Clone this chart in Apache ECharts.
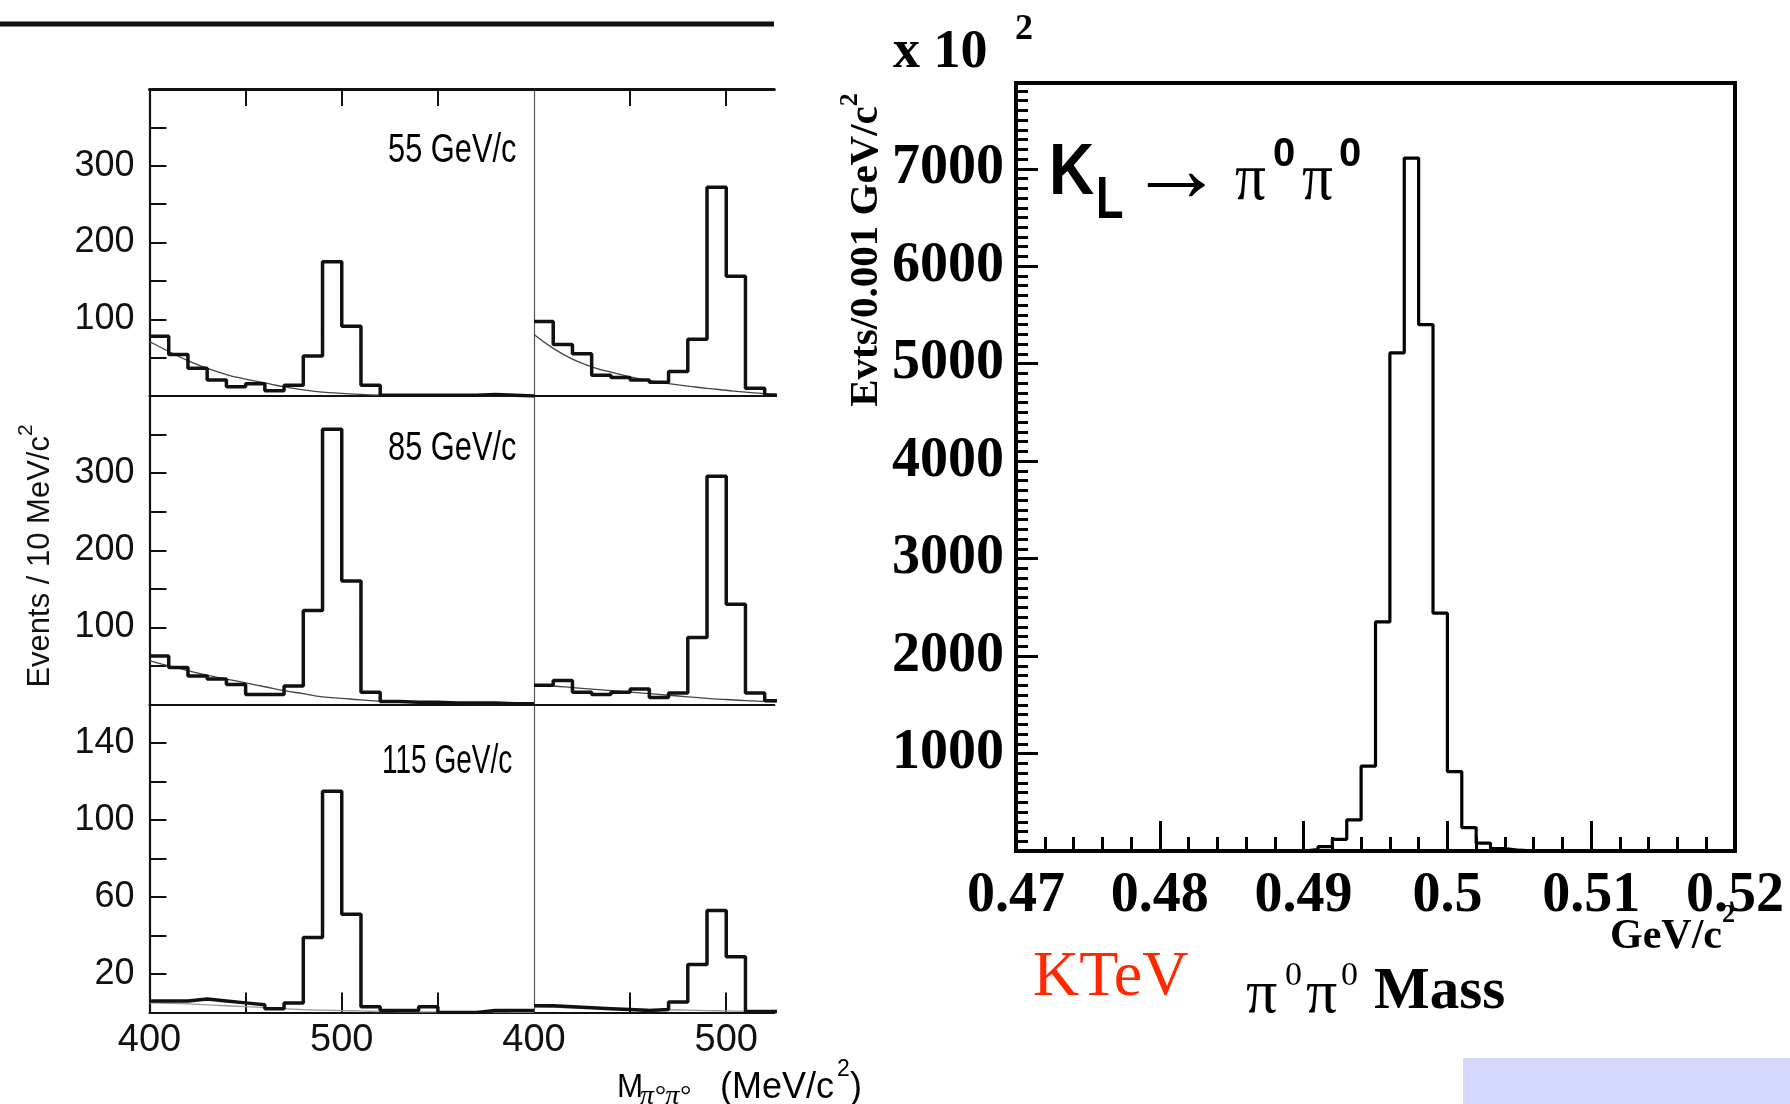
<!DOCTYPE html>
<html><head><meta charset="utf-8">
<script src="https://cdn.jsdelivr.net/npm/echarts@6/dist/echarts.min.js"></script>
<style>html,body{margin:0;padding:0;background:#fff;}#c{width:1790px;height:1104px;}</style>
</head><body><div id="c"></div>
<script>
// ---------------- DATA ----------------
// Left (scanned) figure: bins of 10 MeV/c^2, lower edges
const massEdgesA = [400,410,420,430,440,450,460,470,480,490,500,510,520,530,540,550,560,570,580,590];
const massEdgesB = [400,410,420,430,440,450,460,470,480,490,500,510,520];
const massBinWidth = 10;
// 55 GeV/c
const h55a = [78,54,36,21,12,16,7,14,52,175,91,14,1,1,1,1,1,2,1,0];
const h55b = [97,67,55,27,24,21,18,32,74,272,156,10,1];
// 85 GeV/c
const h85a = [63,48,37,33,26,13,13,24,122,357,160,16,4,3,3,2,2,2,1,1];
const h85b = [25,31,16,13,16,20,9,15,87,296,130,15,5];
// 115 GeV/c
const h115a = [6,6,7,6,5,4,2,5,39,115,51,3,1,1,3,0,0,1,1,1];
const h115b = [3.5,3,2.5,2,1.5,1,1.5,5.5,25,53,29,0.5,0.5];
// background curves
const curveMassA = [400,410,420,430,440,450,460,470,480,490,500,510,520,530,540,550,560,570,580,590,600];
const curveMassB = [400,410,420,430,440,450,460,470,480,490,500,510,520,530];
const c55a = [71,58,46,36,28,22,17,12,8,5,3.5,2,1,0.5,0.3,0.2,0.2,0.1,0.1,0.1,0.1];
const c55b = [80,62,48,38,31,25,20,16,13,10,7.5,5,3,2];
const c85a = [57,50,44,38,33,28,23,18,14,10,8,6,4.5,3.5,2.5,2,1.5,1,1,0.5,0.5];
const c85b = [25,24,22,20,18,16,14,12,10,8,6.5,5,4,3];
const c115a = [5,4.8,4.5,4,3.5,3,2.5,2,1.5,1.2,1,0.8,0.5,0.4,0.3,0.3,0.2,0.2,0.2,0.1,0.1];
const c115b = [3,2.7,2.4,2.2,2,1.8,1.6,1.4,1.2,1,0.8,0.6,0.5,0.4];
const panelLabels = ['55 GeV/c','85 GeV/c','115 GeV/c'];
const yTicksTall = [50,100,150,200,250,300,350];
const yLabelsTall = [100,200,300];
const yTicksShort = [20,40,60,80,100,120,140];
const yLabelsShort = [20,60,100,140];
const xLabelsLeft = [400,500];
const xTicksLeftA = [450,500,550];
const xTicksLeftB = [450,500];

// Right (KTeV) histogram: bins of 0.001 GeV/c^2, lower edges
const kEdges = [0.470,0.471,0.472,0.473,0.474,0.475,0.476,0.477,0.478,0.479,
                0.480,0.481,0.482,0.483,0.484,0.485,0.486,0.487,0.488,0.489,
                0.490,0.491,0.492,0.493,0.494,0.495,0.496,0.497,0.498,0.499,
                0.500,0.501,0.502,0.503,0.504,0.505,0.506,0.507,0.508,0.509,
                0.510,0.511,0.512,0.513,0.514,0.515,0.516,0.517,0.518,0.519];
const kCounts = [0,0,0,0,0,0,0,0,0,0,
                 0,0,0,0,0,0,0,0,0,0,
                 15,44,120,320,870,2350,5110,7110,5400,2440,
                 815,240,80,25,8,0,0,0,0,0,
                 0,0,0,0,0,0,0,0,0,0];
const kBinWidth = 0.001;

// ---------------- BUILD ----------------
function histPoints(edges, vals, w) {
  const pts = edges.map((e, i) => [e, vals[i]]);
  pts.push([edges[edges.length - 1] + w, vals[vals.length - 1]]);
  return pts;
}
function curvePoints(xs, ys) { return xs.map((x, i) => [x, ys[i]]); }

const INK = '#111';
const L1 = 149.5, W1 = 384.5, L2 = 534, W2 = 240.3;
const rowTop = [89, 396, 704.5];
const rowH = [307, 308.5, 308];

const grids = [], xAxes = [], yAxes = [], series = [];
const hist = [[h55a, h55b], [h85a, h85b], [h115a, h115b]];
const curves = [[c55a, c55b], [c85a, c85b], [c115a, c115b]];

for (let r = 0; r < 3; r++) {
  for (let c = 0; c < 2; c++) {
    const p = r * 2 + c;
    grids.push({ left: c === 0 ? L1 : L2, top: rowTop[r], width: c === 0 ? W1 : W2, height: rowH[r], show: false, containLabel: false });
    xAxes.push({
      type: 'value', gridIndex: p, min: 400, max: c === 0 ? 600 : 525, position: 'bottom',
      axisLine: { show: true, onZero: false, lineStyle: { color: INK, width: 2.2 } },
      splitLine: { show: false },
      axisTick: r === 2 ? { show: true, inside: true, length: 20, customValues: c === 0 ? xTicksLeftA : xTicksLeftB, lineStyle: { color: INK, width: 2 } } : { show: false },
      axisLabel: r === 2 ? { show: true, customValues: xLabelsLeft, fontFamily: 'Liberation Sans', fontSize: 38, color: INK, margin: 9 } : { show: false }
    });
    yAxes.push({
      type: 'value', gridIndex: p, min: 0, max: r === 2 ? 160 : 400,
      axisLine: c === 0 ? { show: true, onZero: false, lineStyle: { color: INK, width: 2.2 } } : { show: true, onZero: false, lineStyle: { color: '#555', width: 1.2 } },
      splitLine: { show: false },
      axisTick: c === 0 ? { show: true, inside: true, length: 17, customValues: r === 2 ? yTicksShort : yTicksTall, lineStyle: { color: INK, width: 2 } } : { show: false },
      axisLabel: c === 0 ? { show: true, customValues: r === 2 ? yLabelsShort : yLabelsTall, fontFamily: 'Liberation Sans', fontSize: 36, color: INK, margin: 15 } : { show: false }
    });
    const cm = c === 0 ? curveMassA : curveMassB;
    series.push({
      type: 'line', xAxisIndex: p, yAxisIndex: p, smooth: true, symbol: 'none', silent: true,
      lineStyle: { color: r === 2 ? '#999' : '#444', width: 1.3 },
      data: curvePoints(cm, curves[r][c]), z: 2
    });
    series.push({
      type: 'line', xAxisIndex: p, yAxisIndex: p, step: 'end', symbol: 'none', silent: true,
      lineStyle: { color: INK, width: 3.5 }, data: histPoints(c === 0 ? massEdgesA : massEdgesB, hist[r][c], massBinWidth), z: 3
    });
  }
}
// top border axes of row 1
xAxes.push({ type: 'value', gridIndex: 0, min: 400, max: 600, position: 'top',
  axisLine: { show: true, onZero: false, lineStyle: { color: INK, width: 3 } }, splitLine: { show: false },
  axisTick: { show: true, inside: true, length: 17, customValues: xTicksLeftA, lineStyle: { color: INK, width: 2 } }, axisLabel: { show: false } });
xAxes.push({ type: 'value', gridIndex: 1, min: 400, max: 525, position: 'top',
  axisLine: { show: true, onZero: false, lineStyle: { color: INK, width: 3 } }, splitLine: { show: false },
  axisTick: { show: true, inside: true, length: 17, customValues: xTicksLeftB, lineStyle: { color: INK, width: 2 } }, axisLabel: { show: false } });

// right KTeV panel
grids.push({ left: 1016, top: 83, width: 719, height: 768, show: true, borderColor: '#000', borderWidth: 4, backgroundColor: 'transparent', containLabel: false });
xAxes.push({
  type: 'value', gridIndex: 6, min: 0.47, max: 0.52, interval: 0.01, position: 'bottom',
  axisLine: { show: true, onZero: false, lineStyle: { color: '#000', width: 4 } }, splitLine: { show: false },
  axisTick: { show: true, inside: true, length: 30, lineStyle: { color: '#000', width: 3 } },
  minorTick: { show: true, splitNumber: 5, length: 14, lineStyle: { color: '#000', width: 3 } },
  axisLabel: { show: true, fontFamily: 'Liberation Serif', fontWeight: 'bold', fontSize: 56, color: '#000', margin: 18,
    formatter: v => String(Math.round(v * 1000) / 1000) }
});
yAxes.push({
  type: 'value', gridIndex: 6, min: 0, max: 7880, interval: 1000,
  axisLine: { show: true, onZero: false, lineStyle: { color: '#000', width: 4 } }, splitLine: { show: false },
  axisTick: { show: true, inside: true, length: 22, lineStyle: { color: '#000', width: 3 } },
  minorTick: { show: true, splitNumber: 10, length: 12, lineStyle: { color: '#000', width: 3 } },
  axisLabel: { show: true, fontFamily: 'Liberation Serif', fontWeight: 'bold', fontSize: 56, color: '#000', margin: 12,
    showMaxLabel: false, formatter: v => (v > 0 && v % 1000 === 0) ? String(v) : '' }
});
series.push({
  type: 'line', xAxisIndex: 8, yAxisIndex: 6, step: 'end', symbol: 'none', silent: true,
  lineStyle: { color: '#000', width: 3.2 }, data: histPoints(kEdges, kCounts, kBinWidth), z: 3
});

// ---------------- TEXT / DECOR ----------------
function T(x, y, text, o) {
  o = o || {};
  return { type: 'text', x: x, y: y, rotation: o.rot || 0, scaleX: o.sx || 1, scaleY: o.sy || 1, z: 10,
    style: { text: text, fill: o.color || '#000', fontFamily: o.ff || 'Liberation Sans', fontSize: o.fs || 30,
      fontWeight: o.fw || 'normal', fontStyle: o.it ? 'italic' : 'normal', align: o.align || 'left', verticalAlign: o.va || 'middle', rich: o.rich } };
}
const graphics = [
  { type: 'line', z: 10, shape: { x1: 0, y1: 24, x2: 774, y2: 24 }, style: { stroke: INK, lineWidth: 5 } },
  T(388, 151, panelLabels[0], { fs: 40, sx: 0.77 }),
  T(388, 449, panelLabels[1], { fs: 40, sx: 0.77 }),
  T(382, 762, panelLabels[2], { fs: 40, sx: 0.7 }),
  T(36, 556, '{a|Events / 10 MeV/c}{b|2}', { rot: Math.PI / 2, align: 'center',
    rich: { a: { fontFamily: 'Liberation Sans', fontSize: 31, lineHeight: 40, verticalAlign: 'bottom', fill: INK },
            b: { fontFamily: 'Liberation Sans', fontSize: 21, lineHeight: 40, verticalAlign: 'top', fill: INK } } }),
  T(617, 1088, 'M', { fs: 33, sx: 0.95 }),
  T(640, 1097, 'π°π°', { ff: 'Liberation Serif', it: true, fs: 28 }),
  T(720, 1088, '(MeV/c', { fs: 36 }),
  T(837, 1070, '2', { fs: 23 }),
  T(850, 1088, ')', { fs: 36 }),
  // right panel annotations
  T(893, 53, 'x 10', { ff: 'Liberation Serif', fw: 'bold', fs: 54 }),
  T(1015, 30, '2', { ff: 'Liberation Serif', fw: 'bold', fs: 36 }),
  T(862, 250, '{a|Evts/0.001 GeV/c}{b|2}', { rot: Math.PI / 2, align: 'center',
    rich: { a: { fontFamily: 'Liberation Serif', fontWeight: 'bold', fontSize: 41, lineHeight: 50, verticalAlign: 'bottom' },
            b: { fontFamily: 'Liberation Serif', fontWeight: 'bold', fontSize: 26, lineHeight: 50, verticalAlign: 'top' } } }),
  T(1049, 174, 'K', { fw: 'bold', fs: 72, sx: 0.87 }),
  T(1096, 201, 'L', { fw: 'bold', fs: 60, sx: 0.75 }),
  T(1128, 176, '→', { ff: 'Liberation Serif', fs: 96 }),
  T(1235, 181, 'π', { ff: 'Liberation Serif', fs: 68, sx: 0.9 }),
  T(1273, 155, '0', { fw: 'bold', fs: 40 }),
  T(1302, 181, 'π', { ff: 'Liberation Serif', fs: 68, sx: 0.9 }),
  T(1339, 155, '0', { fw: 'bold', fs: 40 }),
  T(1610, 937, 'GeV/c', { ff: 'Liberation Serif', fw: 'bold', fs: 42 }),
  T(1722, 915, '2', { ff: 'Liberation Serif', fw: 'bold', fs: 26 }),
  T(1033, 978, 'KTeV', { ff: 'Liberation Serif', fs: 64, color: '#ff2800' }),
  T(1246, 996, 'π', { ff: 'Liberation Serif', fs: 62 }),
  T(1285, 976, '0', { ff: 'Liberation Serif', fs: 34 }),
  T(1306, 996, 'π', { ff: 'Liberation Serif', fs: 62 }),
  T(1341, 976, '0', { ff: 'Liberation Serif', fs: 34 }),
  T(1374, 993, 'Mass', { ff: 'Liberation Serif', fw: 'bold', fs: 59 }),
  { type: 'rect', z: 1, shape: { x: 1463, y: 1058, width: 327, height: 46 }, style: { fill: '#d4d8fc' } }
];

const chart = echarts.init(document.getElementById('c'), null, { renderer: 'canvas' });
chart.setOption({
  animation: false,
  backgroundColor: '#fff',
  textStyle: { fontFamily: 'Liberation Sans' },
  grid: grids, xAxis: xAxes, yAxis: yAxes, series: series, graphic: graphics
});
</script></body></html>
